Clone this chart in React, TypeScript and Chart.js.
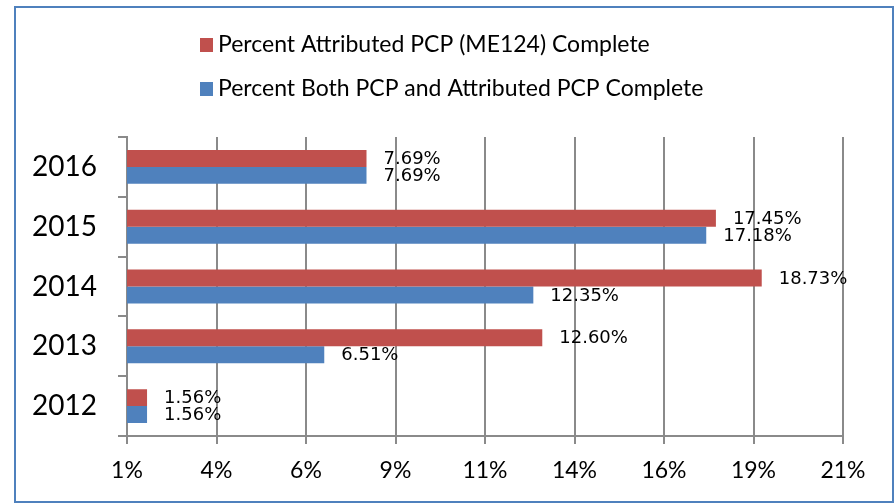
import React, { useEffect, useRef } from "react";
import { Chart, registerables } from "chart.js";

Chart.register(...registerables);

const categories = ["2016", "2015", "2014", "2013", "2012"];
const attributedComplete = [7.69, 17.45, 18.73, 12.6, 1.56];
const bothComplete = [7.69, 17.18, 12.35, 6.51, 1.56];
const seriesNames = [
  "Percent Attributed PCP (ME124) Complete",
  "Percent Both PCP and Attributed PCP Complete",
];
const seriesColors = ["#C0504D", "#4F81BD"];
const xMin = 1;
const xMax = 21;
const xStep = 2.5;

const LABEL_FONT = '"Lato", "Liberation Sans", sans-serif';
const VALUE_FONT = '"DejaVu Sans", sans-serif';

const valueLabels = {
  id: "valueLabels",
  afterDatasetsDraw(chart: any) {
    const ctx = chart.ctx;
    ctx.save();
    ctx.font = `18px ${VALUE_FONT}`;
    ctx.fillStyle = "#000";
    ctx.textAlign = "left";
    ctx.textBaseline = "middle";
    chart.data.datasets.forEach((ds: any, i: number) => {
      const meta = chart.getDatasetMeta(i);
      meta.data.forEach((bar: any, j: number) => {
        ctx.fillText(ds.data[j].toFixed(2) + "%", bar.x + 17, bar.y + 1);
      });
    });
    ctx.restore();
  },
};

const customLegend = {
  id: "customLegend",
  afterDraw(chart: any) {
    const ctx = chart.ctx;
    ctx.save();
    ctx.font = `23px ${LABEL_FONT}`;
    ctx.textAlign = "left";
    ctx.textBaseline = "middle";
    const rows = [37, 81];
    chart.data.datasets.forEach((ds: any, i: number) => {
      const cy = rows[i];
      ctx.fillStyle = ds.backgroundColor;
      ctx.fillRect(184, cy - 7, 13, 14);
      ctx.fillStyle = "#000";
      ctx.fillText(ds.label, 202, cy);
    });
    ctx.restore();
  },
};

export default function App() {
  const ref = useRef<HTMLCanvasElement>(null);
  useEffect(() => {
    if (!ref.current) return;
    const chart = new Chart(ref.current, {
      type: "bar",
      data: {
        labels: categories,
        datasets: [
          {
            label: seriesNames[0],
            data: attributedComplete,
            backgroundColor: seriesColors[0],
            categoryPercentage: 0.567,
            barPercentage: 1,
          },
          {
            label: seriesNames[1],
            data: bothComplete,
            backgroundColor: seriesColors[1],
            categoryPercentage: 0.567,
            barPercentage: 1,
          },
        ],
      },
      options: {
        indexAxis: "y",
        animation: false,
        responsive: false,
        maintainAspectRatio: false,
        layout: { padding: { left: 0, right: 49, top: 129, bottom: 0 } },
        plugins: {
          legend: { display: false },
          tooltip: { enabled: false },
        },
        scales: {
          x: {
            min: xMin,
            max: xMax,
            afterFit: (axis: any) => {
              axis.height = 65;
            },
            ticks: {
              stepSize: xStep,
              color: "#000",
              padding: 13,
              font: { family: LABEL_FONT, size: 23 },
              callback: (v: any) => Math.round(Number(v)) + "%",
            },
            grid: {
              color: "#8a8a8a",
              lineWidth: 2,
              drawTicks: true,
              tickLength: 8,
            },
            border: { color: "#8a8a8a", width: 2 },
          },
          y: {
            afterFit: (axis: any) => {
              axis.width = 111;
            },
            ticks: {
              color: "#000",
              padding: 21,
              font: { family: LABEL_FONT, size: 28 },
            },
            grid: {
              drawOnChartArea: false,
              color: "#8a8a8a",
              lineWidth: 2,
              tickLength: 9,
            },
            border: { color: "#8a8a8a", width: 2 },
          },
        },
      },
      plugins: [valueLabels, customLegend],
    });
    return () => chart.destroy();
  }, []);

  return (
    <div
      style={{
        position: "absolute",
        left: 14,
        top: 6,
        width: 880,
        height: 497,
        border: "2px solid #4F81BD",
        boxSizing: "border-box",
        background: "#fff",
      }}
    >
      <canvas ref={ref} width={876} height={493} style={{ display: "block" }} />
    </div>
  );
}
